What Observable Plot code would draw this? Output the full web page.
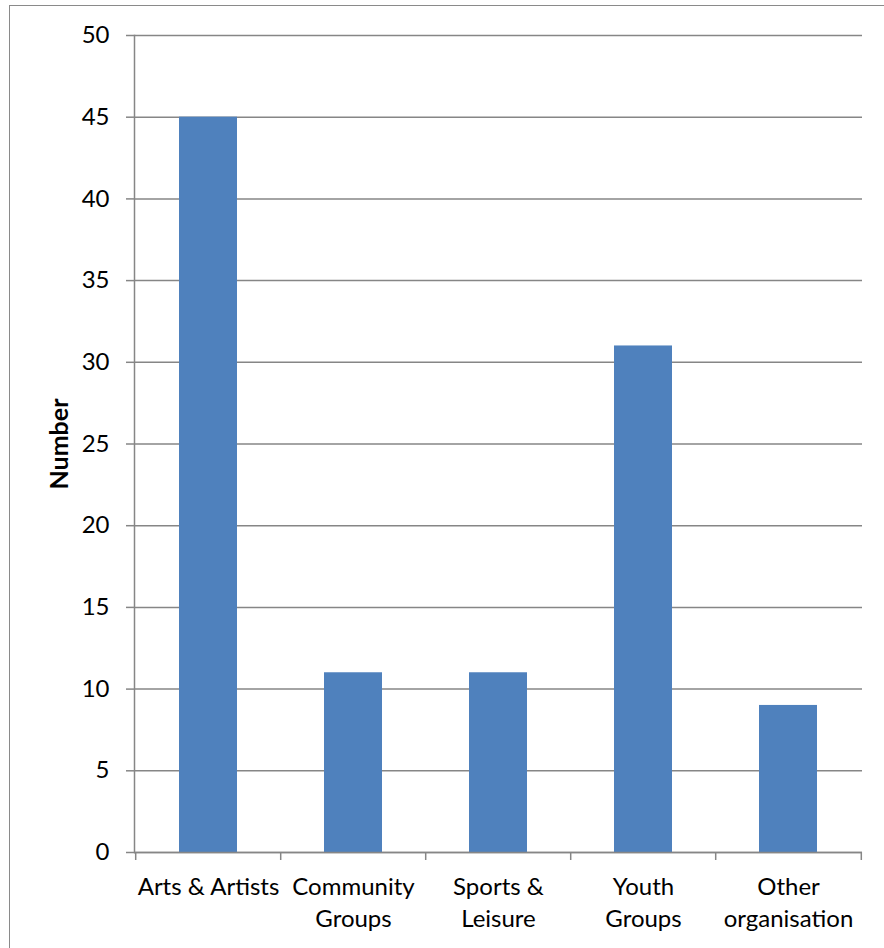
<!DOCTYPE html>
<html>
<head>
<meta charset="utf-8">
<script src="https://cdn.jsdelivr.net/npm/d3@7"></script>
<script src="https://cdn.jsdelivr.net/npm/@observablehq/plot@0.6"></script>
<style>
  html, body { margin: 0; padding: 0; background: #fff; }
  #wrap { position: relative; width: 884px; height: 948px; overflow: hidden; }
  #border { position: absolute; left: 9px; top: 5px; width: 900px; height: 960px; border: 1.5px solid #8a8a8a; box-sizing: border-box; }
  #chart { position: absolute; left: 0; top: 0; }
  g[aria-label="y-axis label"] text { font-weight: bold; font-size: 25px; }
</style>
</head>
<body>
<div id="wrap"><div id="border"></div><div id="chart"></div></div>
<script>
const categories = ["Arts & Artists", "Community\nGroups", "Sports &\nLeisure", "Youth\nGroups", "Other\norganisation"];
const values = [45, 11, 11, 31, 9];
const yTicks = [0, 5, 10, 15, 20, 25, 30, 35, 40, 45, 50];

const data = categories.map((c, i) => ({category: c, value: values[i]}));

const W = 884, H = 948;
const mL = 134, mR = 22, mT = 35, mB = 96;
const step = (W - mL - mR) / categories.length;
const gray = "#868686";

const plot = Plot.plot({
  width: W,
  height: H,
  marginLeft: mL,
  marginRight: mR,
  marginTop: mT,
  marginBottom: mB,
  style: {fontFamily: "Lato, 'Open Sans', sans-serif", fontSize: "24px", color: "#000", background: "transparent", overflow: "visible"},
  x: {domain: categories, paddingInner: 0.6, paddingOuter: 0.3, align: 0.5},
  y: {domain: [0, 50], ticks: yTicks},
  marks: [
    Plot.gridY(yTicks, {stroke: gray, strokeOpacity: 1, strokeWidth: 1.5}),
    Plot.barY(data, {x: "category", y: "value", fill: "#4F81BD"}),
    Plot.ruleY([0], {stroke: gray, strokeWidth: 1.5}),
    Plot.frame({anchor: "left", stroke: gray, strokeWidth: 1.5}),
    Plot.ruleX(categories, {x: d => d, y1: 0, y2: -0.49, dx: -step / 2, stroke: gray, strokeWidth: 1.5}),
    Plot.ruleX(categories.slice(-1), {x: d => d, y1: 0, y2: -0.49, dx: step / 2, stroke: gray, strokeWidth: 1.5}),
    Plot.axisY(yTicks, {tickSize: 8, tickPadding: 17, stroke: gray, strokeWidth: 1.5, label: "Number", labelAnchor: "center", labelArrow: "none", labelOffset: 84}),
    Plot.axisX({tickSize: 0, tickPadding: 20, lineHeight: 1.33, label: null})
  ]
});
document.getElementById("chart").appendChild(plot);
</script>
</body>
</html>
